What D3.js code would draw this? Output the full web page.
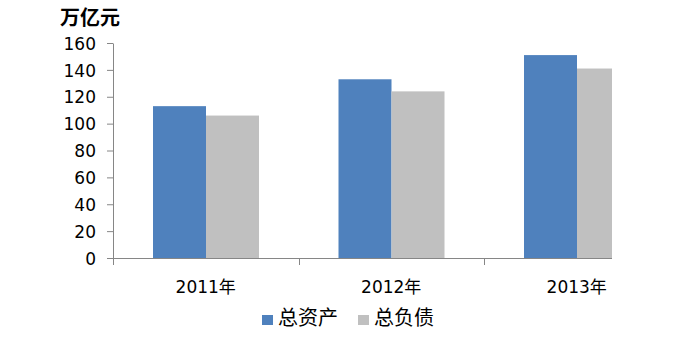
<!DOCTYPE html>
<html>
<head>
<meta charset="utf-8">
<script src="https://cdn.jsdelivr.net/npm/d3@7"></script>
<style>
  body { margin: 0; background: #fff; }
  svg text { font-family: "DejaVu Sans", "Noto Sans CJK SC", sans-serif; fill: #000; }
</style>
</head>
<body>
<svg width="691" height="352"></svg>
<script>
// data
const years = ['2011年', '2012年', '2013年'];
const assets = [113, 133, 151];      // 总资产
const liabilities = [106, 124, 141]; // 总负债
const seriesNames = ['总资产', '总负债'];
const yTicks = [0, 20, 40, 60, 80, 100, 120, 140, 160];

const colors = ['#4F81BD', '#C0C0C0'];
const axisColor = '#868686';

const svg = d3.select('svg');

const plot = {left: 113, right: 612, top: 43, bottom: 258};
const bandW = 185.5;

const x = d3.scaleBand()
  .domain(years)
  .range([plot.left, plot.left + bandW * years.length])
  .paddingInner(0)
  .paddingOuter(0);
const inner = d3.scaleBand()
  .domain(seriesNames)
  .range([40, bandW - 39.5]);
const y = d3.scaleLinear()
  .domain([0, 160])
  .range([plot.bottom, plot.top]);

svg.append('clipPath').attr('id', 'clip')
  .append('rect')
  .attr('x', plot.left).attr('y', 0)
  .attr('width', plot.right - plot.left).attr('height', plot.bottom + 1);

// bars
const series = [assets, liabilities];
const bars = svg.append('g').attr('clip-path', 'url(#clip)');
series.forEach((vals, s) => {
  bars.selectAll(null)
    .data(vals)
    .enter()
    .append('rect')
    .attr('x', (d, i) => x(years[i]) + inner(seriesNames[s]))
    .attr('y', d => y(d))
    .attr('width', inner.bandwidth())
    .attr('height', d => y(0) - y(d))
    .attr('fill', colors[s]);
});

// y axis
const yAxis = svg.append('g')
  .attr('transform', 'translate(' + plot.left + ',0)')
  .call(d3.axisLeft(y).tickValues(yTicks).tickSize(6).tickPadding(11).tickSizeOuter(0));
yAxis.select('.domain').attr('stroke', axisColor);
yAxis.selectAll('.tick line').attr('stroke', axisColor);
yAxis.selectAll('.tick text')
  .style('font-size', '17px')
  .attr('dy', '0.36em');

// x axis line and category ticks
svg.append('line')
  .attr('x1', plot.left).attr('x2', plot.right)
  .attr('y1', plot.bottom + 0.5).attr('y2', plot.bottom + 0.5)
  .attr('stroke', axisColor);
svg.append('g').selectAll('line')
  .data(years)
  .enter()
  .append('line')
  .attr('x1', d => Math.round(x(d)) + 0.5)
  .attr('x2', d => Math.round(x(d)) + 0.5)
  .attr('y1', plot.bottom)
  .attr('y2', plot.bottom + 7)
  .attr('stroke', axisColor);

svg.append('g').selectAll('text')
  .data(years)
  .enter()
  .append('text')
  .attr('x', d => x(d) + bandW / 2)
  .attr('y', 293)
  .attr('text-anchor', 'middle')
  .style('font-size', '17px')
  .text(d => d);

// unit title
svg.append('text')
  .attr('x', 90).attr('y', 25)
  .attr('text-anchor', 'middle')
  .style('font-size', '20px')
  .style('font-weight', 'bold')
  .style('font-family', '"Noto Sans CJK SC", sans-serif')
  .text('万亿元');

// legend
const legend = svg.append('g');
const legendX = [262, 358];
seriesNames.forEach((name, s) => {
  legend.append('rect')
    .attr('x', legendX[s]).attr('y', 315)
    .attr('width', 11).attr('height', 10)
    .attr('fill', colors[s]);
  legend.append('text')
    .attr('x', legendX[s] + 16).attr('y', 325)
    .style('font-size', '20px')
    .style('font-family', '"Noto Sans CJK SC", sans-serif')
    .text(name);
});
</script>
</body>
</html>
